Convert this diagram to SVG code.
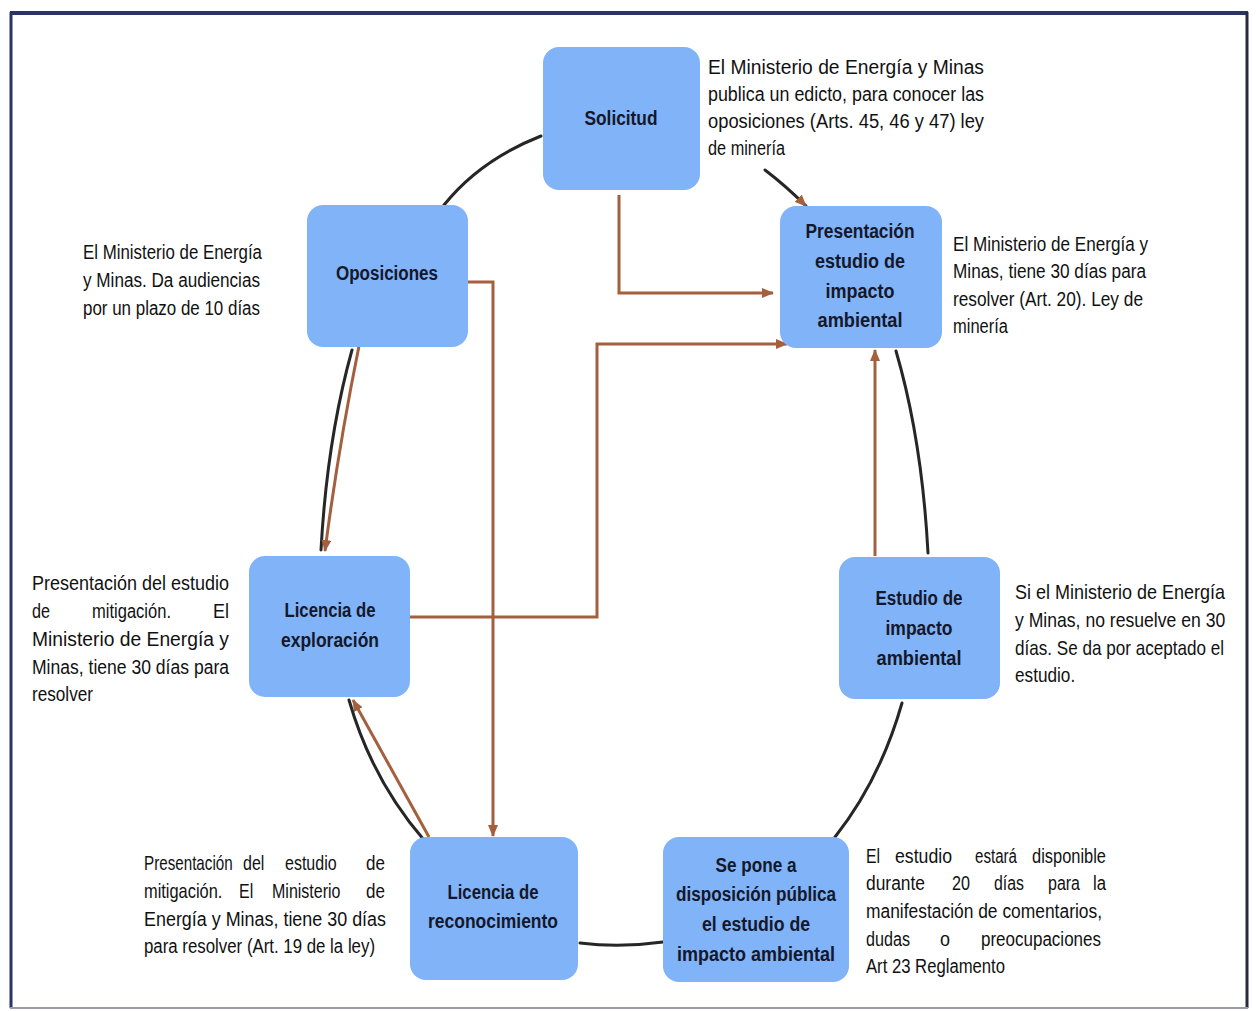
<svg xmlns="http://www.w3.org/2000/svg" width="1256" height="1011" viewBox="0 0 1256 1011">
<defs>
<style>
.node{fill:#80b3f7;}
.nt{font-family:"Liberation Sans Narrow","Liberation Sans",Arial,sans-serif;font-weight:bold;font-size:20px;fill:#15172a;text-anchor:middle;}
.ann{font-family:"Liberation Sans Narrow","Liberation Sans",Arial,sans-serif;font-size:20px;fill:#111;}
.dk{fill:none;stroke:#262626;stroke-width:3;stroke-linecap:round;}
.br{fill:none;stroke:#a45f3e;stroke-width:3;}
</style>
<marker id="ah" viewBox="0 0 12 10" refX="11" refY="5" markerWidth="12" markerHeight="10" markerUnits="userSpaceOnUse" orient="auto">
<path d="M0,0 L12,5 L0,10 z" fill="#a45f3e"/>
</marker>
</defs>
<rect width="1256" height="1011" fill="#ffffff"/>
<g id="frame">
<line x1="10" y1="13" x2="1248" y2="13" stroke="#2a3566" stroke-width="4"/>
<line x1="11" y1="12" x2="11" y2="1008" stroke="#2a3566" stroke-width="3"/>
<line x1="1247" y1="12" x2="1247" y2="1008" stroke="#2a2a3a" stroke-width="3"/>
<line x1="10" y1="1008" x2="1248" y2="1008" stroke="#9a9aa8" stroke-width="2"/>
</g>
<g id="connectors">
<path class="dk" d="M541 136 Q480 160 444 205"/>
<path class="dk" d="M765 170 Q786 186 806 206" marker-end="url(#ah)"/>
<path class="dk" d="M896 351 Q922 440 928 553"/>
<path class="dk" d="M902 703 Q880 780 835 837"/>
<path class="dk" d="M663 942 Q620 948 580 943"/>
<path class="dk" d="M424 840 Q372 780 349 700"/>
<path class="br" d="M429 837 L353 700" marker-end="url(#ah)"/>
<path class="dk" d="M352 350 Q327 440 321 550"/>
<path class="br" d="M359 346 Q338 450 325 551" marker-end="url(#ah)"/>
<path class="br" d="M619 195 L619 293 L773 293" marker-end="url(#ah)"/>
<path class="br" d="M410 617 L597 617 L597 344 L787 344" marker-end="url(#ah)"/>
<path class="br" d="M468 282 L493 282 L493 836" marker-end="url(#ah)"/>
<path class="br" d="M875 556 L875 350" marker-end="url(#ah)"/>
</g>
<g id="n-solicitud">
<rect class="node" x="543" y="47" width="157" height="143" rx="16"/>
<text class="nt" x="621" y="125" textLength="73" lengthAdjust="spacingAndGlyphs">Solicitud</text>
</g>
<g id="n-presentacion">
<rect class="node" x="780" y="206" width="162" height="142" rx="16"/>
<text class="nt" x="860" y="238" textLength="109" lengthAdjust="spacingAndGlyphs">Presentación</text>
<text class="nt" x="860" y="268" textLength="90" lengthAdjust="spacingAndGlyphs">estudio de</text>
<text class="nt" x="860" y="298" textLength="69" lengthAdjust="spacingAndGlyphs">impacto</text>
<text class="nt" x="860" y="327" textLength="85" lengthAdjust="spacingAndGlyphs">ambiental</text>
</g>
<g id="n-oposiciones">
<rect class="node" x="307" y="205" width="161" height="142" rx="16"/>
<text class="nt" x="387" y="280" textLength="102" lengthAdjust="spacingAndGlyphs">Oposiciones</text>
</g>
<g id="n-exploracion">
<rect class="node" x="249" y="556" width="161" height="141" rx="16"/>
<text class="nt" x="330" y="617" textLength="91" lengthAdjust="spacingAndGlyphs">Licencia de</text>
<text class="nt" x="330" y="647" textLength="98" lengthAdjust="spacingAndGlyphs">exploración</text>
</g>
<g id="n-estudio">
<rect class="node" x="839" y="557" width="161" height="142" rx="16"/>
<text class="nt" x="919" y="605" textLength="87" lengthAdjust="spacingAndGlyphs">Estudio de</text>
<text class="nt" x="919" y="635" textLength="67" lengthAdjust="spacingAndGlyphs">impacto</text>
<text class="nt" x="919" y="665" textLength="85" lengthAdjust="spacingAndGlyphs">ambiental</text>
</g>
<g id="n-reconocimiento">
<rect class="node" x="410" y="837" width="168" height="143" rx="16"/>
<text class="nt" x="493" y="899" textLength="91" lengthAdjust="spacingAndGlyphs">Licencia de</text>
<text class="nt" x="493" y="928" textLength="130" lengthAdjust="spacingAndGlyphs">reconocimiento</text>
</g>
<g id="n-disposicion">
<rect class="node" x="663" y="837" width="186" height="145" rx="16"/>
<text class="nt" x="756" y="872" textLength="81" lengthAdjust="spacingAndGlyphs">Se pone a</text>
<text class="nt" x="756" y="901" textLength="160" lengthAdjust="spacingAndGlyphs">disposición pública</text>
<text class="nt" x="756" y="931" textLength="108" lengthAdjust="spacingAndGlyphs">el estudio de</text>
<text class="nt" x="756" y="961" textLength="158" lengthAdjust="spacingAndGlyphs">impacto ambiental</text>
</g>
<g id="a-solicitud">
<text class="ann" x="708" y="74" textLength="276" lengthAdjust="spacingAndGlyphs">El Ministerio de Energía y Minas</text>
<text class="ann" x="708" y="101" textLength="276" lengthAdjust="spacingAndGlyphs">publica un edicto, para conocer las</text>
<text class="ann" x="708" y="128" textLength="276" lengthAdjust="spacingAndGlyphs">oposiciones (Arts. 45, 46 y 47) ley</text>
<text class="ann" x="708" y="155" textLength="77" lengthAdjust="spacingAndGlyphs">de minería</text>
</g>
<g id="a-presentacion">
<text class="ann" x="953" y="251" textLength="195" lengthAdjust="spacingAndGlyphs">El Ministerio de Energía y</text>
<text class="ann" x="953" y="278" textLength="193" lengthAdjust="spacingAndGlyphs">Minas, tiene 30 días para</text>
<text class="ann" x="953" y="306" textLength="190" lengthAdjust="spacingAndGlyphs">resolver (Art. 20). Ley de</text>
<text class="ann" x="953" y="333" textLength="55" lengthAdjust="spacingAndGlyphs">minería</text>
</g>
<g id="a-oposiciones">
<text class="ann" x="83" y="259" textLength="179" lengthAdjust="spacingAndGlyphs">El Ministerio de Energía</text>
<text class="ann" x="83" y="287" textLength="177" lengthAdjust="spacingAndGlyphs">y Minas. Da audiencias</text>
<text class="ann" x="83" y="315" textLength="177" lengthAdjust="spacingAndGlyphs">por un plazo de 10 días</text>
</g>
<g id="a-exploracion">
<text class="ann" x="32" y="590" textLength="197" lengthAdjust="spacingAndGlyphs">Presentación del estudio</text>
<text class="ann" x="32" y="618" textLength="18" lengthAdjust="spacingAndGlyphs">de</text>
<text class="ann" x="92" y="618" textLength="79" lengthAdjust="spacingAndGlyphs">mitigación.</text>
<text class="ann" x="213" y="618" textLength="16" lengthAdjust="spacingAndGlyphs">El</text>
<text class="ann" x="32" y="646" textLength="197" lengthAdjust="spacingAndGlyphs">Ministerio de Energía y</text>
<text class="ann" x="32" y="674" textLength="197" lengthAdjust="spacingAndGlyphs">Minas, tiene 30 días para</text>
<text class="ann" x="32" y="701" textLength="61" lengthAdjust="spacingAndGlyphs">resolver</text>
</g>
<g id="a-estudio">
<text class="ann" transform="translate(1015 599) scale(0.9 1)">Si el Ministerio de Energía</text>
<text class="ann" transform="translate(1015 627) scale(0.88 1)">y Minas, no resuelve en 30</text>
<text class="ann" transform="translate(1015 655) scale(0.855 1)">días. Se da por aceptado el</text>
<text class="ann" transform="translate(1015 682) scale(0.86 1)">estudio.</text>
</g>
<g id="a-reconocimiento">
<text class="ann" transform="translate(144 870) scale(0.76 1)">Presentación</text>
<text class="ann" transform="translate(243 870) scale(0.8 1)">del</text>
<text class="ann" transform="translate(285 870) scale(0.8 1)">estudio</text>
<text class="ann" transform="translate(366 870) scale(0.85 1)">de</text>
<text class="ann" transform="translate(144 898) scale(0.82 1)">mitigación.</text>
<text class="ann" transform="translate(239 898) scale(0.8 1)">El</text>
<text class="ann" transform="translate(272 898) scale(0.8 1)">Ministerio</text>
<text class="ann" transform="translate(366 898) scale(0.85 1)">de</text>
<text class="ann" x="144" y="926" textLength="242" lengthAdjust="spacingAndGlyphs">Energía y Minas, tiene 30 días</text>
<text class="ann" x="144" y="953" textLength="231" lengthAdjust="spacingAndGlyphs">para resolver (Art. 19 de la ley)</text>
</g>
<g id="a-disposicion">
<text class="ann" x="866" y="863" textLength="14" lengthAdjust="spacingAndGlyphs">El</text>
<text class="ann" x="895" y="863" textLength="57" lengthAdjust="spacingAndGlyphs">estudio</text>
<text class="ann" x="975" y="863" textLength="42" lengthAdjust="spacingAndGlyphs">estará</text>
<text class="ann" x="1032" y="863" textLength="74" lengthAdjust="spacingAndGlyphs">disponible</text>
<text class="ann" x="866" y="890" textLength="59" lengthAdjust="spacingAndGlyphs">durante</text>
<text class="ann" x="952" y="890" textLength="18" lengthAdjust="spacingAndGlyphs">20</text>
<text class="ann" x="994" y="890" textLength="30" lengthAdjust="spacingAndGlyphs">días</text>
<text class="ann" x="1048" y="890" textLength="32" lengthAdjust="spacingAndGlyphs">para</text>
<text class="ann" x="1093" y="890" textLength="13" lengthAdjust="spacingAndGlyphs">la</text>
<text class="ann" x="866" y="918" textLength="236" lengthAdjust="spacingAndGlyphs">manifestación de comentarios,</text>
<text class="ann" x="866" y="946" textLength="44" lengthAdjust="spacingAndGlyphs">dudas</text>
<text class="ann" x="940" y="946" textLength="10" lengthAdjust="spacingAndGlyphs">o</text>
<text class="ann" x="981" y="946" textLength="120" lengthAdjust="spacingAndGlyphs">preocupaciones</text>
<text class="ann" x="866" y="973" textLength="139" lengthAdjust="spacingAndGlyphs">Art 23 Reglamento</text>
</g>
</svg>
